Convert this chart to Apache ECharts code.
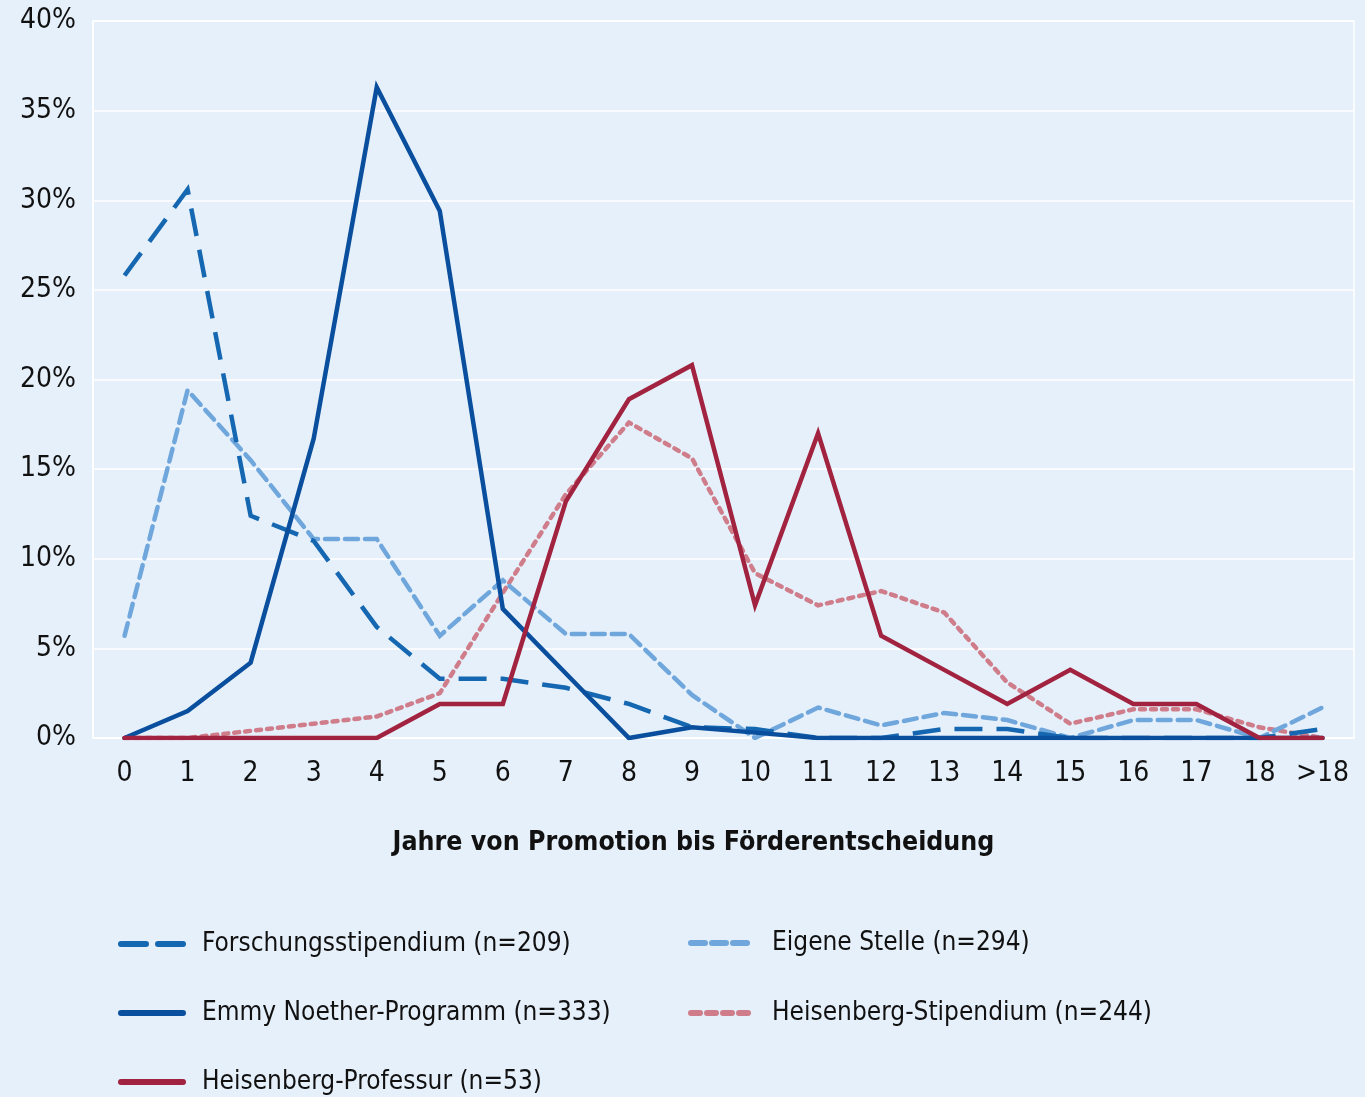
<!DOCTYPE html>
<html><head><meta charset="utf-8">
<script src="https://cdn.jsdelivr.net/npm/echarts@6/dist/echarts.min.js"></script>
<style>html,body{margin:0;padding:0;background:#e6f0fa;}#c{width:1365px;height:1097px;}</style>
</head><body><div id="c"></div>
<script>
const categories = ['0','1','2','3','4','5','6','7','8','9','10','11','12','13','14','15','16','17','18','>18'];
const yTicks = [0,5,10,15,20,25,30,35,40];
const forschung = [25.8,30.6,12.4,11.0,6.2,3.3,3.3,2.8,1.9,0.6,0.5,0,0,0.5,0.5,0,0,0,0,0.5];
const eigene = [5.7,19.4,15.5,11.1,11.1,5.7,8.8,5.8,5.8,2.4,0,1.7,0.7,1.4,1.0,0,1.0,1.0,0,1.7];
const emmy = [0,1.5,4.2,16.7,36.3,29.4,7.2,3.6,0,0.6,0.3,0,0,0,0,0,0,0,0,0];
const hStip = [0,0,0.4,0.8,1.2,2.5,8.1,13.6,17.6,15.6,9.2,7.4,8.2,7.0,3.1,0.8,1.6,1.6,0.6,0];
const hProf = [0,0,0,0,0,1.9,1.9,13.2,18.9,20.8,7.4,17.0,5.7,3.8,1.9,3.8,1.9,1.9,0,0];
const names = ['Forschungsstipendium (n=209)','Eigene Stelle (n=294)','Emmy Noether-Programm (n=333)','Heisenberg-Stipendium (n=244)','Heisenberg-Professur (n=53)'];

const FONT = "'DejaVu Sans Condensed','Liberation Sans Narrow',sans-serif";
const C_F = '#1467b0', C_E = '#6fa6dc', C_N = '#0a4f9e', C_S = '#cf7d8b', C_P = '#a12340';

const styles = {
  [names[0]]: {color: C_F, type: [28, 14], cap: 'butt', width: 4.5, legendDash: [25, 12]},
  [names[1]]: {color: C_E, type: [13, 7], cap: 'round', width: 4.5, legendDash: [14, 7]},
  [names[2]]: {color: C_N, type: 'solid', cap: 'round', width: 4.5, legendDash: 'solid'},
  [names[3]]: {color: C_S, type: [5, 6], cap: 'round', width: 4.5, legendDash: [9, 7]},
  [names[4]]: {color: C_P, type: 'solid', cap: 'round', width: 4.5, legendDash: 'solid'}
};
const dataMap = {[names[0]]: forschung, [names[1]]: eigene, [names[2]]: emmy, [names[3]]: hStip, [names[4]]: hProf};
const drawOrder = [names[3], names[1], names[0], names[2], names[4]];

const series = drawOrder.map(n => ({
  name: n, type: 'line', data: dataMap[n], symbol: 'none', smooth: false,
  lineStyle: {color: styles[n].color, width: styles[n].width, type: styles[n].type, cap: styles[n].cap, join: 'miter'},
  itemStyle: {color: styles[n].color}
}));

const legendPos = [
  {name: names[0], left: 118, top: 931},
  {name: names[1], left: 688, top: 930},
  {name: names[2], left: 118, top: 1000},
  {name: names[3], left: 688, top: 1000},
  {name: names[4], left: 118, top: 1069}
];
const legends = legendPos.map(p => ({
  left: p.left, top: p.top, itemWidth: 62, itemHeight: 30, orient: 'horizontal', padding: 0,
  data: [{name: p.name,
    itemStyle: {opacity: 0},
    lineStyle: {width: 6, type: styles[p.name].legendDash, cap: 'round', color: styles[p.name].color}}],
  textStyle: {fontFamily: FONT, fontSize: 26, color: '#111', padding: [0, 0, 0, 14]},
  selectedMode: false
}));

const chart = echarts.init(document.getElementById('c'), null, {renderer: 'canvas'});
chart.setOption({
  backgroundColor: '#e6f0fa',
  animation: false,
  grid: {left: 93, right: 11, top: 21, bottom: 359, show: true, borderColor: '#ffffff', borderWidth: 1.5, backgroundColor: 'transparent'},
  legend: legends,
  xAxis: {
    type: 'category', data: categories, boundaryGap: true,
    axisLine: {show: true, lineStyle: {color: '#fff', width: 1.5}},
    axisTick: {show: false},
    axisLabel: {fontFamily: FONT, fontSize: 28, color: '#111', margin: 22, interval: 0},
    name: 'Jahre von Promotion bis Förderentscheidung', nameLocation: 'middle', nameGap: 92,
    nameTextStyle: {fontFamily: FONT, fontSize: 26.5, fontWeight: 'bold', color: '#111', padding: [0, 60, 0, 0]}
  },
  yAxis: {
    type: 'value', min: yTicks[0], max: yTicks[yTicks.length - 1], interval: yTicks[1] - yTicks[0],
    axisLine: {show: true, lineStyle: {color: '#fff', width: 1.5}},
    axisTick: {show: false},
    splitLine: {show: true, lineStyle: {color: '#fff', width: 1.5}},
    axisLabel: {fontFamily: FONT, fontSize: 28, color: '#111', margin: 17, formatter: '{value}%'}
  },
  series: series
});
</script></body></html>
